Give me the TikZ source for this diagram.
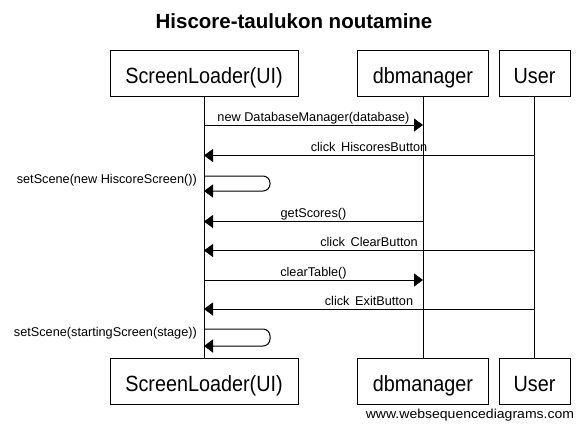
\documentclass[tikz,border=0pt]{standalone}
\usepackage{fontspec}
\setmainfont{Liberation Sans}
\newfontfamily\boxfont[FakeStretch=0.9]{Liberation Sans}
\newfontfamily\footfont[FakeStretch=1.08]{Liberation Sans}
\usetikzlibrary{arrows.meta}
\begin{document}
\begin{tikzpicture}[x=1pt,y=-1pt,
  actor/.style={draw,line width=1pt,minimum height=46pt,inner sep=0pt,
    text height=20pt,text depth=0pt,font=\boxfont\fontsize{22}{26}\selectfont},
  life/.style={line width=1pt},
  msg/.style={line width=1pt,-{Triangle[length=9pt,width=13pt]}},
  selfmsg/.style={msg,rounded corners=7pt},
  lbl/.style={font=\fontsize{12.7}{15}\selectfont,anchor=base,inner sep=0pt}]
\useasboundingbox[fill=white] (0,0) rectangle (584,429);

% title
\node[anchor=base,inner sep=0pt,font=\fontsize{20.5}{24}\selectfont\bfseries] (title) at (294,28) {Hiscore-taulukon noutamine};

% participants
\node[actor,minimum width=188pt] (t1) at (204,73) {ScreenLoader(UI)};
\node[actor,minimum width=131pt] (t2) at (423,73) {dbmanager};
\node[actor,minimum width=71pt]  (t3) at (534.5,73) {User};
\node[actor,minimum width=188pt] (b1) at (204,381) {ScreenLoader(UI)};
\node[actor,minimum width=131pt] (b2) at (423,381) {dbmanager};
\node[actor,minimum width=71pt]  (b3) at (534.5,381) {User};

% lifelines
\draw[life] (t1.south) -- (b1.north);
\draw[life] (t2.south) -- (b2.north);
\draw[life] (t3.south -| 534,0) -- (b3.north -| 534,0);

% message end points
\coordinate (a1) at (204,125);  \coordinate (c1) at (423,125);
\coordinate (a2) at (204,155.5);\coordinate (c2) at (534,155.5);
\coordinate (a3) at (204,176);  \coordinate (r3) at (270,176);
\coordinate (r3b) at (270,191); \coordinate (a3b) at (204,191);
\coordinate (a4) at (204,221.5);\coordinate (c4) at (423,221.5);
\coordinate (a5) at (204,250.5);\coordinate (c5) at (534,250.5);
\coordinate (a6) at (204,280);  \coordinate (c6) at (423,280);
\coordinate (a7) at (204,309);  \coordinate (c7) at (534,309);
\coordinate (a8) at (204,329);  \coordinate (r8) at (270,329);
\coordinate (r8b) at (270,346); \coordinate (a8b) at (204,346);

% messages
\draw[msg] (a1) -- (c1);
\node[lbl] (l1) at (313.5,121) {new DatabaseManager(database)};
\draw[msg] (c2) -- (a2);
\node[lbl] (l2) at (369,151.5) {click\, HiscoresButton};
\draw[selfmsg] (a3) -- (r3) -- (r3b) -- (a3b);
\node[lbl,anchor=base east] (l3) at (197,183) {setScene(new HiscoreScreen())};
\draw[msg] (c4) -- (a4);
\node[lbl] (l4) at (313.5,217.5) {getScores()};
\draw[msg] (c5) -- (a5);
\node[lbl] (l5) at (369,246.5) {click\, ClearButton};
\draw[msg] (a6) -- (c6);
\node[lbl] (l6) at (313.5,276) {clearTable()};
\draw[msg] (c7) -- (a7);
\node[lbl] (l7) at (369,305) {click\, ExitButton};
\draw[selfmsg] (a8) -- (r8) -- (r8b) -- (a8b);
\node[lbl,anchor=base east] (l8) at (197,336) {setScene(startingScreen(stage))};

% footer
\node[anchor=base,inner sep=0pt,font=\footfont\fontsize{13}{15}\selectfont] (foot) at (470,418) {www.websequencediagrams.com};
\end{tikzpicture}
\end{document}
